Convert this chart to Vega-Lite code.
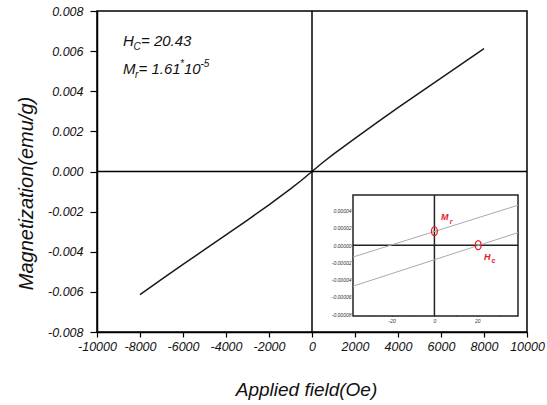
{
  "$schema": "https://vega.github.io/schema/vega-lite/v6.json",
  "width": 430,
  "height": 321,
  "autosize": "none",
  "padding": {"left": 97, "top": 11, "right": 20, "bottom": 73},
  "background": "white",
  "config": {
    "view": {"stroke": "black", "strokeWidth": 1.5},
    "font": "Liberation Sans",
    "locale": {"number": {"decimal": ".", "thousands": ",", "grouping": [3], "currency": ["$", ""], "minus": "-"}}
  },
  "datasets": {
    "curve": [
      {"x": -8000, "y": -0.00614}, {"x": -7000, "y": -0.00538}, {"x": -6000, "y": -0.00463},
      {"x": -5000, "y": -0.0039}, {"x": -4000, "y": -0.00316}, {"x": -3000, "y": -0.00242},
      {"x": -2000, "y": -0.00166}, {"x": -1000, "y": -0.00087}, {"x": -500, "y": -0.00045}, {"x": 0, "y": 0},
      {"x": 500, "y": 0.00045}, {"x": 1000, "y": 0.00087}, {"x": 2000, "y": 0.00165}, {"x": 3000, "y": 0.00242},
      {"x": 4000, "y": 0.00318}, {"x": 5000, "y": 0.00392}, {"x": 6000, "y": 0.00465},
      {"x": 7000, "y": 0.00539}, {"x": 8000, "y": 0.00612}
    ],
    "vline": [{"x": 0}],
    "hline": [{"y": 0}],
    "annMain": [
      {"t": "H", "x": -8791, "y": 0.006255},
      {"t": "= 20.43", "x": -7954, "y": 0.006255},
      {"t": "M", "x": -8791, "y": 0.00486},
      {"t": "= 1.61", "x": -8070, "y": 0.00486},
      {"t": "10", "x": -5954, "y": 0.00486}
    ],
    "annSub": [
      {"t": "C", "x": -8302, "y": 0.006056},
      {"t": "r", "x": -8233, "y": 0.00466}
    ],
    "annSup": [
      {"t": "*", "x": -6140, "y": 0.00521},
      {"t": "-5", "x": -5186, "y": 0.00521}
    ],
    "insetBox": [{"x": -38, "x2": 39, "y": -0.000082, "y2": 0.000058}],
    "insetV": [{"x": 0, "y": -0.000082, "y2": 0.000058}],
    "insetH": [{"x": -38, "x2": 39, "y": 0}],
    "insetLines": [
      {"b": "up", "x": -38, "y": -0.0000138}, {"b": "up", "x": 39, "y": 0.0000462},
      {"b": "down", "x": -38, "y": -0.0000475}, {"b": "down", "x": 39, "y": 0.0000145}
    ],
    "markers": [{"x": 0, "y": 0.0000161}, {"x": 20.43, "y": 0}],
    "insetLab": [{"t": "M", "x": 3.1, "y": 0.000029}, {"t": "H", "x": 23.1, "y": -0.0000172}],
    "insetSub": [{"t": "r", "x": 7.2, "y": 0.0000244}, {"t": "c", "x": 26.6, "y": -0.0000207}]
  },
  "layer": [
    {
      "layer": [
        {
          "data": {"name": "curve"},
          "mark": {"type": "line", "color": "#1a1a1a", "strokeWidth": 1.5},
          "encoding": {
            "x": {
              "field": "x", "type": "quantitative",
              "scale": {"domain": [-10000, 10000], "nice": false, "zero": false},
              "axis": {
                "orient": "bottom",
                "values": [-10000, -9000, -8000, -7000, -6000, -5000, -4000, -3000, -2000, -1000, 0, 1000, 2000, 3000, 4000, 5000, 6000, 7000, 8000, 9000, 10000],
                "format": "d",
                "labelExpr": "round(datum.value/1000) % 2 === 0 ? datum.label : ''",
                "tickSize": {"condition": {"test": "round(datum.value/1000) % 2 !== 0", "value": 3}, "value": 5},
                "labelFont": "Liberation Sans", "labelFontStyle": "italic", "labelFontSize": 12.5, "labelColor": "#111",
                "labelPadding": 3, "labelFlush": false, "labelOverlap": false,
                "title": "Applied field(Oe)", "titleFont": "Liberation Sans", "titleFontSize": 19, "titleFontStyle": "italic",
                "titleFontWeight": "normal", "titleColor": "#111", "titlePadding": 28, "titleX": 209,
                "domainColor": "black", "domainWidth": 1.5, "tickColor": "black", "tickWidth": 1.2, "grid": false
              }
            },
            "y": {
              "field": "y", "type": "quantitative",
              "scale": {"domain": [-0.008, 0.008], "nice": false, "zero": false},
              "axis": {
                "orient": "left",
                "values": [-0.008, -0.007, -0.006, -0.005, -0.004, -0.003, -0.002, -0.001, 0, 0.001, 0.002, 0.003, 0.004, 0.005, 0.006, 0.007, 0.008],
                "format": ".3f",
                "labelExpr": "round(datum.value*1000) % 2 === 0 ? datum.label : ''",
                "tickSize": {"condition": {"test": "round(datum.value*1000) % 2 !== 0", "value": 4}, "value": 7},
                "labelFont": "Liberation Sans", "labelFontStyle": "italic", "labelFontSize": 12.5, "labelColor": "#111",
                "labelPadding": 7, "labelFlush": false, "labelOverlap": false,
                "title": "Magnetization(emu/g)", "titleFont": "Liberation Sans", "titleFontSize": 20, "titleFontStyle": "italic",
                "titleFontWeight": "normal", "titleColor": "#111", "titlePadding": 11, "titleY": 182,
                "domainColor": "black", "domainWidth": 1.5, "tickColor": "black", "tickWidth": 1.2, "grid": false
              }
            }
          }
        },
        {
          "data": {"name": "vline"},
          "mark": {"type": "rule", "color": "black", "strokeWidth": 1.5},
          "encoding": {"x": {"field": "x", "type": "quantitative"}}
        },
        {
          "data": {"name": "hline"},
          "mark": {"type": "rule", "color": "black", "strokeWidth": 1.5},
          "encoding": {"y": {"field": "y", "type": "quantitative"}}
        },
        {
          "data": {"name": "annMain"},
          "mark": {"type": "text", "align": "left", "baseline": "alphabetic", "fontSize": 15, "fontStyle": "italic", "font": "Liberation Sans", "color": "#111"},
          "encoding": {"x": {"field": "x", "type": "quantitative"}, "y": {"field": "y", "type": "quantitative"}, "text": {"field": "t"}}
        },
        {
          "data": {"name": "annSub"},
          "mark": {"type": "text", "align": "left", "baseline": "alphabetic", "fontSize": 10, "fontStyle": "italic", "font": "Liberation Sans", "color": "#111"},
          "encoding": {"x": {"field": "x", "type": "quantitative"}, "y": {"field": "y", "type": "quantitative"}, "text": {"field": "t"}}
        },
        {
          "data": {"name": "annSup"},
          "mark": {"type": "text", "align": "left", "baseline": "alphabetic", "fontSize": 10, "fontStyle": "italic", "font": "Liberation Sans", "color": "#111"},
          "encoding": {"x": {"field": "x", "type": "quantitative"}, "y": {"field": "y", "type": "quantitative"}, "text": {"field": "t"}}
        }
      ]
    },
    {
      "layer": [
        {
          "data": {"name": "insetBox"},
          "mark": {"type": "rect", "fill": "white", "stroke": "#222", "strokeWidth": 1.5},
          "encoding": {
            "x": {
              "field": "x", "type": "quantitative",
              "scale": {"domain": [-38, 39], "range": [256, 421], "nice": false, "zero": false},
              "axis": {
                "orient": "bottom", "offset": -16, "domain": false, "grid": false, "title": null,
                "values": [-30, -20, -10, 0, 10, 20, 30],
                "labelExpr": "round(datum.value/10) % 2 === 0 ? datum.label : ''",
                "tickSize": {"condition": {"test": "round(datum.value/10) % 2 !== 0", "value": -2}, "value": -3},
                "tickColor": "#222", "tickWidth": 1,
                "labelFontSize": 5, "labelFontStyle": "italic", "labelColor": "#333", "labelPadding": 5,
                "labelFlush": false, "labelOverlap": false
              }
            },
            "x2": {"field": "x2"},
            "y": {
              "field": "y", "type": "quantitative",
              "scale": {"domain": [-0.000082, 0.000058], "range": [305, 184], "nice": false, "zero": false},
              "axis": {
                "orient": "left", "offset": -256, "domain": false, "grid": false, "title": null,
                "values": [-0.00008, -0.00007, -0.00006, -0.00005, -0.00004, -0.00003, -0.00002, -0.00001, 0, 0.00001, 0.00002, 0.00003, 0.00004, 0.00005],
                "format": ".5f",
                "labelExpr": "round(datum.value*100000) % 2 === 0 ? datum.label : ''",
                "tickSize": {"condition": {"test": "round(datum.value*100000) % 2 !== 0", "value": -2}, "value": -3},
                "tickColor": "#222", "tickWidth": 1,
                "labelFontSize": 5, "labelFontStyle": "italic", "labelColor": "#333", "labelPadding": 5,
                "labelFlush": false, "labelOverlap": false
              }
            },
            "y2": {"field": "y2"}
          }
        },
        {
          "data": {"name": "insetV"},
          "mark": {"type": "rule", "color": "#222", "strokeWidth": 1.5},
          "encoding": {"x": {"field": "x", "type": "quantitative"}, "y": {"field": "y", "type": "quantitative"}, "y2": {"field": "y2"}}
        },
        {
          "data": {"name": "insetH"},
          "mark": {"type": "rule", "color": "#222", "strokeWidth": 1.5},
          "encoding": {"x": {"field": "x", "type": "quantitative"}, "x2": {"field": "x2"}, "y": {"field": "y", "type": "quantitative"}}
        },
        {
          "data": {"name": "insetLines"},
          "mark": {"type": "line", "color": "#aaaaaa", "strokeWidth": 1},
          "encoding": {"x": {"field": "x", "type": "quantitative"}, "y": {"field": "y", "type": "quantitative"}, "detail": {"field": "b"}}
        },
        {
          "data": {"name": "markers"},
          "mark": {"type": "point", "shape": "M0,-1A0.65,1,0,1,1,0,1A0.65,1,0,1,1,0,-1Z", "size": 81, "filled": false, "stroke": "#e3202a", "strokeWidth": 1.3, "opacity": 1},
          "encoding": {"x": {"field": "x", "type": "quantitative"}, "y": {"field": "y", "type": "quantitative"}}
        },
        {
          "data": {"name": "insetLab"},
          "mark": {"type": "text", "align": "left", "baseline": "alphabetic", "fontSize": 9, "fontStyle": "italic", "fontWeight": "bold", "font": "Liberation Sans", "color": "#e3202a"},
          "encoding": {"x": {"field": "x", "type": "quantitative"}, "y": {"field": "y", "type": "quantitative"}, "text": {"field": "t"}}
        },
        {
          "data": {"name": "insetSub"},
          "mark": {"type": "text", "align": "left", "baseline": "alphabetic", "fontSize": 7, "fontStyle": "italic", "fontWeight": "bold", "font": "Liberation Sans", "color": "#e3202a"},
          "encoding": {"x": {"field": "x", "type": "quantitative"}, "y": {"field": "y", "type": "quantitative"}, "text": {"field": "t"}}
        }
      ]
    }
  ],
  "resolve": {"scale": {"x": "independent", "y": "independent"}}
}
